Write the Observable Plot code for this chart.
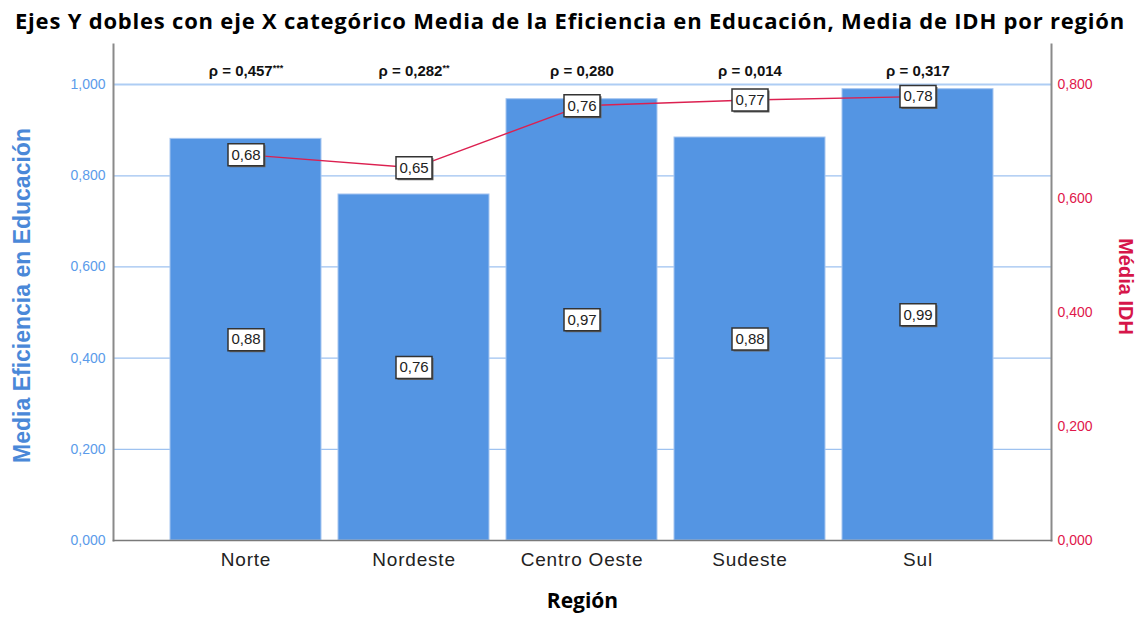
<!DOCTYPE html>
<html><head><meta charset="utf-8">
<script src="https://cdn.jsdelivr.net/npm/d3@7"></script>
<script src="https://cdn.jsdelivr.net/npm/@observablehq/plot@0.6"></script>
<style>
body{margin:0;background:#fff;}
#title{height:40px;line-height:40px;text-align:center;font-family:"Open Sans",Lato,sans-serif;font-weight:bold;font-size:22px;color:#000;white-space:nowrap;}
g[aria-label="x-axis tick label"] text{letter-spacing:0.8px;}
</style></head><body>
<div id="title"><span id="titletext">Ejes Y dobles con eje X categórico Media de la Eficiencia en Educación, Media de IDH por región</span></div>
<div id="chart"></div>
<script>
const regions = ["Norte", "Nordeste", "Centro Oeste", "Sudeste", "Sul"];
const eficiencia = [0.881, 0.759, 0.968, 0.884, 0.990];
const idh = [0.677, 0.654, 0.763, 0.773, 0.779];
const rhoValues = ["0,457", "0,282", "0,280", "0,014", "0,317"];
const rhoStars = ["***", "**", "", "", ""];
const leftTicks = [0, 0.2, 0.4, 0.6, 0.8, 1.0];
const rightTicks = [0, 0.2, 0.4, 0.6, 0.8];
const rightMax = 0.8; // right axis value aligned with left 1.0

const toLeft = v => v / rightMax;
const fmt2 = v => v.toFixed(2).replace(".", ",");
const fmt3 = v => v.toFixed(3).replace(".", ",");

const data = regions.map((r, i) => ({
  region: r, ef: eficiencia[i], idh: idh[i], idhL: toLeft(idh[i]),
  rho: "ρ = " + rhoValues[i] + rhoStars[i]
}));

const boxSymbol = {draw(ctx) { ctx.moveTo(-18, -11); ctx.lineTo(18, -11); ctx.lineTo(18, 11); ctx.lineTo(-18, 11); ctx.closePath(); }};

const blue = "#5495e3";
const tickBlue = "#5b9bea";
const red = "#e0174b";

const chart = Plot.plot({
  width: 1140, height: 582,
  marginLeft: 113, marginRight: 89, marginTop: 4, marginBottom: 82,
  style: {fontFamily: "Liberation Sans, Arial, sans-serif", background: "#fff"},
  x: {domain: regions, paddingInner: 0.1, paddingOuter: 0.329, align: 0.5},
  y: {domain: [0, 1.088]},
  marks: [
    Plot.ruleY(leftTicks.filter(t => t > 0 && t < 1), {stroke: "#9ec2f0", strokeWidth: 1.3}),
    Plot.ruleY([1.0], {stroke: "#aecdf4", strokeWidth: 2}),
    Plot.barY(data, {x: "region", y: "ef", fill: blue, stroke: "#a6c6f0", strokeWidth: 1}),
    Plot.frame({anchor: "left", stroke: "#8a8a8a", strokeWidth: 2}),
    Plot.frame({anchor: "right", stroke: "#8a8a8a", strokeWidth: 2}),
    Plot.frame({anchor: "bottom", stroke: "#7a7a7a", strokeWidth: 1.5}),
    Plot.axisY(leftTicks, {anchor: "left", tickSize: 0, tickPadding: 8, fontSize: 14, color: tickBlue, tickFormat: fmt3, label: null}),
    Plot.axisY(rightTicks.map(toLeft), {anchor: "right", tickSize: 0, tickPadding: 6, fontSize: 14, color: red, tickFormat: d => fmt3(d * rightMax), label: null}),
    Plot.axisX({tickSize: 0, tickPadding: 12, fontSize: 19, color: "#222", label: null}),
    Plot.lineY(data, {x: "region", y: "idhL", stroke: "#dc2050", strokeWidth: 1.4}),
    // value boxes on bars
    Plot.dot(data, {x: "region", y: d => d.ef / 2, symbol: boxSymbol, r: 1, fill: "#666", stroke: "none", dx: 1.5, dy: 1.5}),
    Plot.dot(data, {x: "region", y: d => d.ef / 2, symbol: boxSymbol, r: 1, fill: "#fff", stroke: "#333", strokeWidth: 1.5}),
    Plot.text(data, {x: "region", y: d => d.ef / 2, text: d => fmt2(d.ef), fontSize: 15, fill: "#222"}),
    // value boxes on line
    Plot.dot(data, {x: "region", y: "idhL", symbol: boxSymbol, r: 1, fill: "#666", stroke: "none", dx: 1.5, dy: 1.5}),
    Plot.dot(data, {x: "region", y: "idhL", symbol: boxSymbol, r: 1, fill: "#fff", stroke: "#333", strokeWidth: 1.5}),
    Plot.text(data, {x: "region", y: "idhL", text: d => fmt2(d.idh), fontSize: 15, fill: "#222"}),
    // rho labels
    Plot.text(data, {x: "region", y: () => 1.0285, text: "rho", fontSize: 15, fontWeight: "bold", fill: "#111"}),
    // axis titles
    Plot.text(["Media Eficiencia en Educación"], {frameAnchor: "left", textAnchor: "middle", text: d => d, rotate: -90, dx: -91, dy: 3, fontSize: 23, fontWeight: "bold", fill: "#4a88d8"}),
    Plot.text(["Média IDH"], {frameAnchor: "right", textAnchor: "middle", text: d => d, rotate: 90, dx: 74, dy: -6, fontSize: 20, fontWeight: "bold", fill: "#d6164a"}),
    Plot.text(["Región"], {frameAnchor: "bottom", text: d => d, dy: 67, fontSize: 21, fontWeight: "bold", fill: "#000", fontFamily: "Open Sans, Lato, sans-serif"})
  ]
});

// render superscript significance stars
chart.querySelectorAll("text").forEach(t => {
  const s = t.textContent;
  if (s.startsWith("ρ") && s.includes("*")) {
    const i = s.indexOf("*");
    t.textContent = s.slice(0, i);
    const ts = document.createElementNS("http://www.w3.org/2000/svg", "tspan");
    ts.textContent = s.slice(i);
    ts.setAttribute("font-size", "9");
    ts.setAttribute("dy", "-0.6em");
    t.appendChild(ts);
  }
});

document.getElementById("chart").appendChild(chart);

// fit title width to reference span
const tt = document.getElementById("titletext");
const w = tt.getBoundingClientRect().width;
const n = tt.textContent.length;
tt.style.letterSpacing = ((1110 - w) / n) + "px";
</script>
</body></html>
